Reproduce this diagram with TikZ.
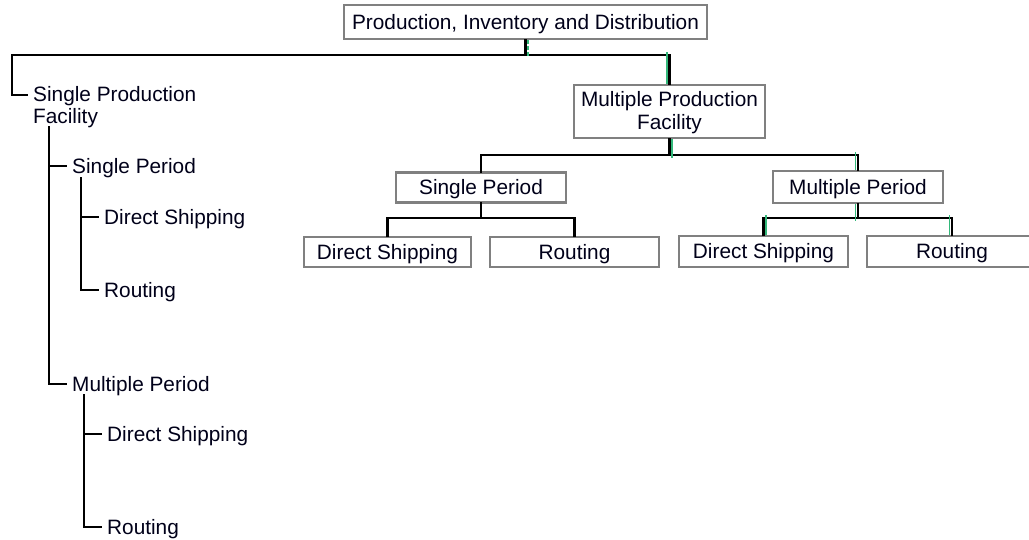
\documentclass[tikz,border=0pt]{standalone}
\usepackage{fontspec}
\setmainfont{Liberation Sans}
\begin{document}
\begin{tikzpicture}[x=1pt,y=-1pt,
  every node/.style={font=\fontsize{20.8}{22.5}\selectfont, text=black!90!blue},
  box/.style={draw=black!50, line width=2.8pt, fill=white, inner sep=0pt,
    align=center, text height=14.9pt, text depth=0pt},
  leaf/.style={anchor=west, inner xsep=6pt, inner ysep=0pt,
    text height=14.9pt, text depth=0pt},
  link/.style={draw=black, line width=2.9pt, line cap=rect},
  tint/.style={draw=teal!70!green!80!white, line width=1.5pt}]
\useasboundingbox (0,0) rectangle (1029,539);

% right-hand tree: framed boxes
\node[box, minimum width=363pt, minimum height=34pt] (pid) at (525.5,22) {Production, Inventory and Distribution};
\node[box, minimum width=191pt, minimum height=53pt, text height=, text depth=] (mpf) at (669.5,111.5) {\rule{0pt}{17pt}Multiple Production\\Facility};
\node[box, minimum width=170pt, minimum height=30pt] (rsp) at (481,187.5) {Single Period};
\node[box, minimum width=170pt, minimum height=32pt] (rmp) at (858,187) {Multiple Period};
\node[box, minimum width=167pt, minimum height=30pt] (rsd) at (387.5,252) {Direct Shipping};
\node[box, minimum width=169pt, minimum height=30pt] (rsr) at (574.5,252) {Routing};
\node[box, minimum width=169pt, minimum height=31pt] (rmd) at (763.5,251.5) {Direct Shipping};
\node[box, minimum width=170pt, minimum height=31pt] (rmr) at (952,251.5) {Routing};

% left-hand tree: indented list
\node[anchor=north west, align=left, inner sep=0pt] (spf) at (33,86) {Single Production\\Facility};
\node[leaf] (lsp) at (66,166) {Single Period};
\node[leaf] (lsd) at (98,217) {Direct Shipping};
\node[leaf] (lsr) at (98,290) {Routing};
\node[leaf] (lmp) at (66,384) {Multiple Period};
\node[leaf] (lmd) at (101,434) {Direct Shipping};
\node[leaf] (lmr) at (101,527) {Routing};

% junction points
\coordinate (j0) at (525.5,55);
\coordinate (jl) at (12,55);
\coordinate (jf) at (27,95);
\coordinate (j1) at (669.5,155);
\coordinate (j2) at (481,218);
\coordinate (j3) at (858,218);
\coordinate (t1) at (49,127);
\coordinate (t2) at (81,178);
\coordinate (t3) at (84,395);

% connectors of the framed tree
\draw[link] (pid.south) -- (j0);
\draw[link] (j0) -| (mpf.north);
\draw[link] (mpf.south) -- (j1);
\draw[link] (j1) -| (rsp.north);
\draw[link] (j1) -| (rmp.north);
\draw[link] (rsp.south) -- (j2);
\draw[link] (j2) -| (rsd.north);
\draw[link] (j2) -| (rsr.north);
\draw[link] (rmp.south) -- (j3);
\draw[link] (j3) -| (rmd.north);
\draw[link] (j3) -| (rmr.north);

% connectors of the indented list
\draw[link] (j0) -- (jl) |- (jf);
\draw[link] (t1) |- (lsp.west);
\draw[link] (t1) |- (lmp.west);
\draw[link] (t2) |- (lsd.west);
\draw[link] (t2) |- (lsr.west);
\draw[link] (t3) |- (lmd.west);
\draw[link] (t3) |- (lmr.west);

% teal edging along some of the links
\draw[tint, dash pattern=on 4pt off 2pt] ([xshift=2.4pt]pid.south) -- ([xshift=2.4pt,yshift=-3pt]j0);
\draw[tint] ([xshift=-2.4pt,yshift=3pt]mpf.north |- j0) -- ([xshift=-2.4pt]mpf.north);
\draw[tint] ([xshift=2.4pt]mpf.south) -- ([xshift=2.4pt,yshift=-3pt]j1);
\draw[tint] ([xshift=-2.4pt,yshift=3pt]rmp.north |- j1) -- ([xshift=-2.4pt]rmp.north);
\draw[tint] ([xshift=-2.4pt]rmp.south) -- ([xshift=-2.4pt,yshift=-3pt]j3);
\draw[tint] ([xshift=2.4pt,yshift=3pt]rmd.north |- j3) -- ([xshift=2.4pt]rmd.north);
\draw[tint] ([xshift=-2.4pt,yshift=3pt]rmr.north |- j3) -- ([xshift=-2.4pt]rmr.north);
\end{tikzpicture}
\end{document}
